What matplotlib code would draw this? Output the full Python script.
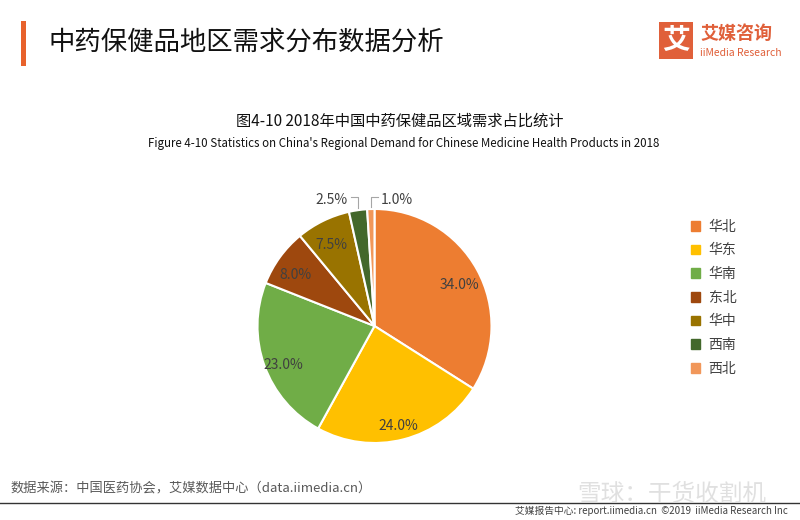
import numpy as np
import matplotlib.pyplot as plt
from matplotlib.patches import Rectangle

plt.rcParams['font.family'] = ['Noto Sans CJK SC', 'DejaVu Sans']

regions = ['华北', '华东', '华南', '东北', '华中', '西南', '西北']
shares = [34.0, 24.0, 23.0, 8.0, 7.5, 2.5, 1.0]
colors = ['#ED7D31', '#FFC000', '#70AD47', '#9E480E', '#997300', '#43682B', '#F1975A']

fig = plt.figure(figsize=(8, 5.2), dpi=100)

# header
fig.add_artist(Rectangle((21 / 800, 1 - 66 / 520), 5 / 800, 45 / 520,
                         transform=fig.transFigure, color='#E8622C', lw=0))
fig.text(48 / 800, 1 - 42 / 520, '中药保健品地区需求分布数据分析',
         fontsize=19, va='center', ha='left', color='#111111')

# logo
fig.add_artist(Rectangle((659 / 800, 1 - 59 / 520), 34 / 800, 37 / 520,
                         transform=fig.transFigure, color='#E0603A', lw=0))
fig.text(676 / 800, 1 - 41 / 520, '艾', fontsize=20, color='white',
         ha='center', va='center', fontweight='bold')
fig.text(700 / 800, 1 - 33 / 520, '艾媒咨询', fontsize=13, color='#E0603A',
         ha='left', va='center', fontweight='bold')
fig.text(700 / 800, 1 - 53 / 520, 'iiMedia Research', fontsize=7.5, color='#E0603A',
         ha='left', va='center')

# chart titles
fig.text(400 / 800, 1 - 121 / 520, '图4-10 2018年中国中药保健品区域需求占比统计',
         fontsize=11, ha='center', va='center', color='#111111', fontweight='medium')
fig.text(404 / 800, 1 - 143 / 520,
         "Figure 4-10 Statistics on China's Regional Demand for Chinese Medicine Health Products in 2018",
         fontsize=8.3, ha='center', va='center', color='#111111', fontweight='medium')

# pie
ax = fig.add_axes([(374.5 - 117) / 800, 1 - (326 + 117) / 520, 234 / 800, 234 / 520])
wedges, texts, autotexts = ax.pie(
    shares, colors=colors, startangle=90, counterclock=False,
    autopct='%.1f%%', pctdistance=0.83,
    wedgeprops=dict(edgecolor='white', linewidth=1.5),
    textprops=dict(fontsize=10, color='#404040'))
ax.set_xlim(-1, 1)
ax.set_ylim(-1, 1)
ax.set_aspect('equal')
for t in autotexts:
    x, y = t.get_position()
    t.set_position((x, y - 0.05))

# small slices: labels outside with elbow leader lines
for i, side in [(5, -1), (6, 1)]:
    w = wedges[i]
    ang = np.deg2rad((w.theta1 + w.theta2) / 2)
    x0, y0 = 1.02 * np.cos(ang), 1.02 * np.sin(ang)
    ty = 1.08
    tx = x0 + side * 0.06
    autotexts[i].set_position((tx + side * 0.165, ty))
    autotexts[i].set_ha('center')
    autotexts[i].set_va('center')
    ax.plot([tx, x0, x0], [ty + 0.02, ty + 0.02, y0], color='#A6A6A6', lw=0.8,
            clip_on=False)

# legend
handles = [Rectangle((0, 0), 1, 1, color=c) for c in colors]
leg = fig.legend(handles, regions, loc='upper left',
                 bbox_to_anchor=(678 / 800, 1 - 207 / 520), frameon=False,
                 fontsize=10, handlelength=0.7, handleheight=0.7,
                 labelspacing=0.7, handletextpad=0.6)
for t in leg.get_texts():
    t.set_color('#404040')

# footer
fig.text(10 / 800, 1 - 489 / 520, '数据来源：中国医药协会，艾媒数据中心（data.iimedia.cn）',
         fontsize=9.5, color='#595959', ha='left', va='center')
fig.text(672 / 800, 1 - 494 / 520, '雪球：干货收割机', fontsize=17,
         color='#D9D9D9', ha='center', va='center', alpha=0.8)
fig.add_artist(plt.Line2D([0, 1], [1 - 503 / 520, 1 - 503 / 520],
                          transform=fig.transFigure, color='#333333', lw=1))
fig.text(788 / 800, 1 - 511 / 520,
         '艾媒报告中心: report.iimedia.cn  ©2019  iiMedia Research Inc',
         fontsize=7, color='#404040', ha='right', va='center')

fig.savefig('out.png', dpi=100, facecolor='white')
